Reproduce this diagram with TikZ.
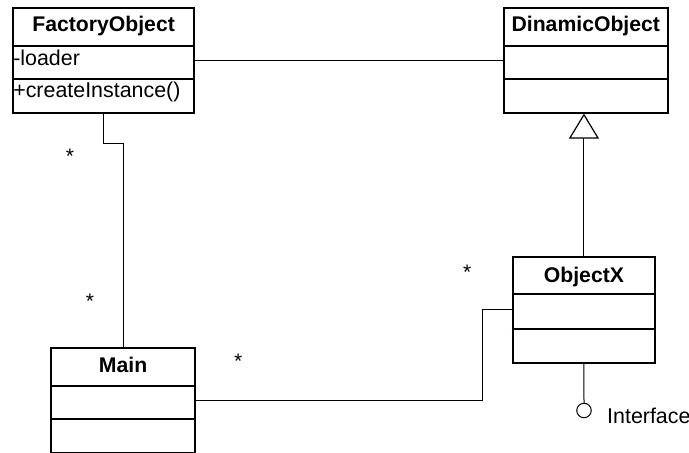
\documentclass[tikz,border=0pt]{standalone}
\usepackage{fontspec}
\setmainfont{Liberation Sans}
\usetikzlibrary{arrows.meta,calc}
\newcommand\umlsplit[3]{%
  \draw[divider] ([yshift=-#2pt]#1.north west) -- ([yshift=-#2pt]#1.north east);
  \draw[divider] ([yshift=-#3pt]#1.north west) -- ([yshift=-#3pt]#1.north east);}
\begin{document}
\begin{tikzpicture}[x=1pt,y=-1pt,
  classbox/.style={draw, line width=1.9pt, inner sep=0pt, anchor=north west},
  divider/.style={line width=1.9pt},
  conn/.style={line width=1pt},
  title/.style={font=\fontsize{21.2}{24}\selectfont\bfseries, inner sep=0pt, anchor=base},
  member/.style={font=\fontsize{21.4}{24}\selectfont, inner sep=0pt, anchor=base west},
  mult/.style={font=\fontsize{21}{24}\selectfont, inner sep=0pt, anchor=base},
  lollipop/.style={draw, circle, line width=1pt, minimum size=14.5pt, inner sep=0pt}]
\useasboundingbox (0,0) rectangle (689,453);
% classes
\node[classbox, minimum width=180.7pt, minimum height=105pt] (fo) at (12.3,6.7) {};
\umlsplit{fo}{39.3}{72.6}
\node[title] (fot) at ($(fo.north)+(0,25)$) {FactoryObject};
\node[member] (foa) at ($(fo.north west)+(0.8,58.3)$) {-loader};
\node[member] (fom) at ($(fo.north west)+(0.8,90.8)$) {+createInstance()};

\node[classbox, minimum width=163.7pt, minimum height=105pt] (dyn) at (503,6.7) {};
\umlsplit{dyn}{39.3}{72.6}
\node[title] (dynt) at ($(dyn.north)+(0,25)$) {DinamicObject};

\node[classbox, minimum width=142.6pt, minimum height=106pt] (objx) at (511.7,255.7) {};
\umlsplit{objx}{38.6}{73.3}
\node[title] (objxt) at ($(objx.north)+(0,26.5)$) {ObjectX};

\node[classbox, minimum width=144.3pt, minimum height=105.3pt] (main) at (50,346.7) {};
\umlsplit{main}{39}{72.3}
\node[title] (maint) at ($(main.north)+(0,26)$) {Main};

\node[lollipop] (iface) at (584,410.5) {};
\node[member] (ifacet) at (607,423) {Interface};

% connectors
\draw[conn] (fo.east) -- (dyn.west);
\draw[conn, -{Triangle[open, length=25pt, width=30pt, line width=1.2pt]}] (objx.north) -- (objx.north |- dyn.south);
\draw[conn] (fo.south) -- ++(0,30) -| (main.north);
\draw[conn] (main.east) -| ([xshift=-29pt]objx.west) -- (objx.west);
\draw[conn] (objx.south) -- (iface.north);

% multiplicities
\node[mult] (m1) at (70,163.5) {*};
\node[mult] (m2) at (90,308.5) {*};
\node[mult] (m3) at (238.3,368.5) {*};
\node[mult] (m4) at (467.3,279) {*};
\end{tikzpicture}
\end{document}
